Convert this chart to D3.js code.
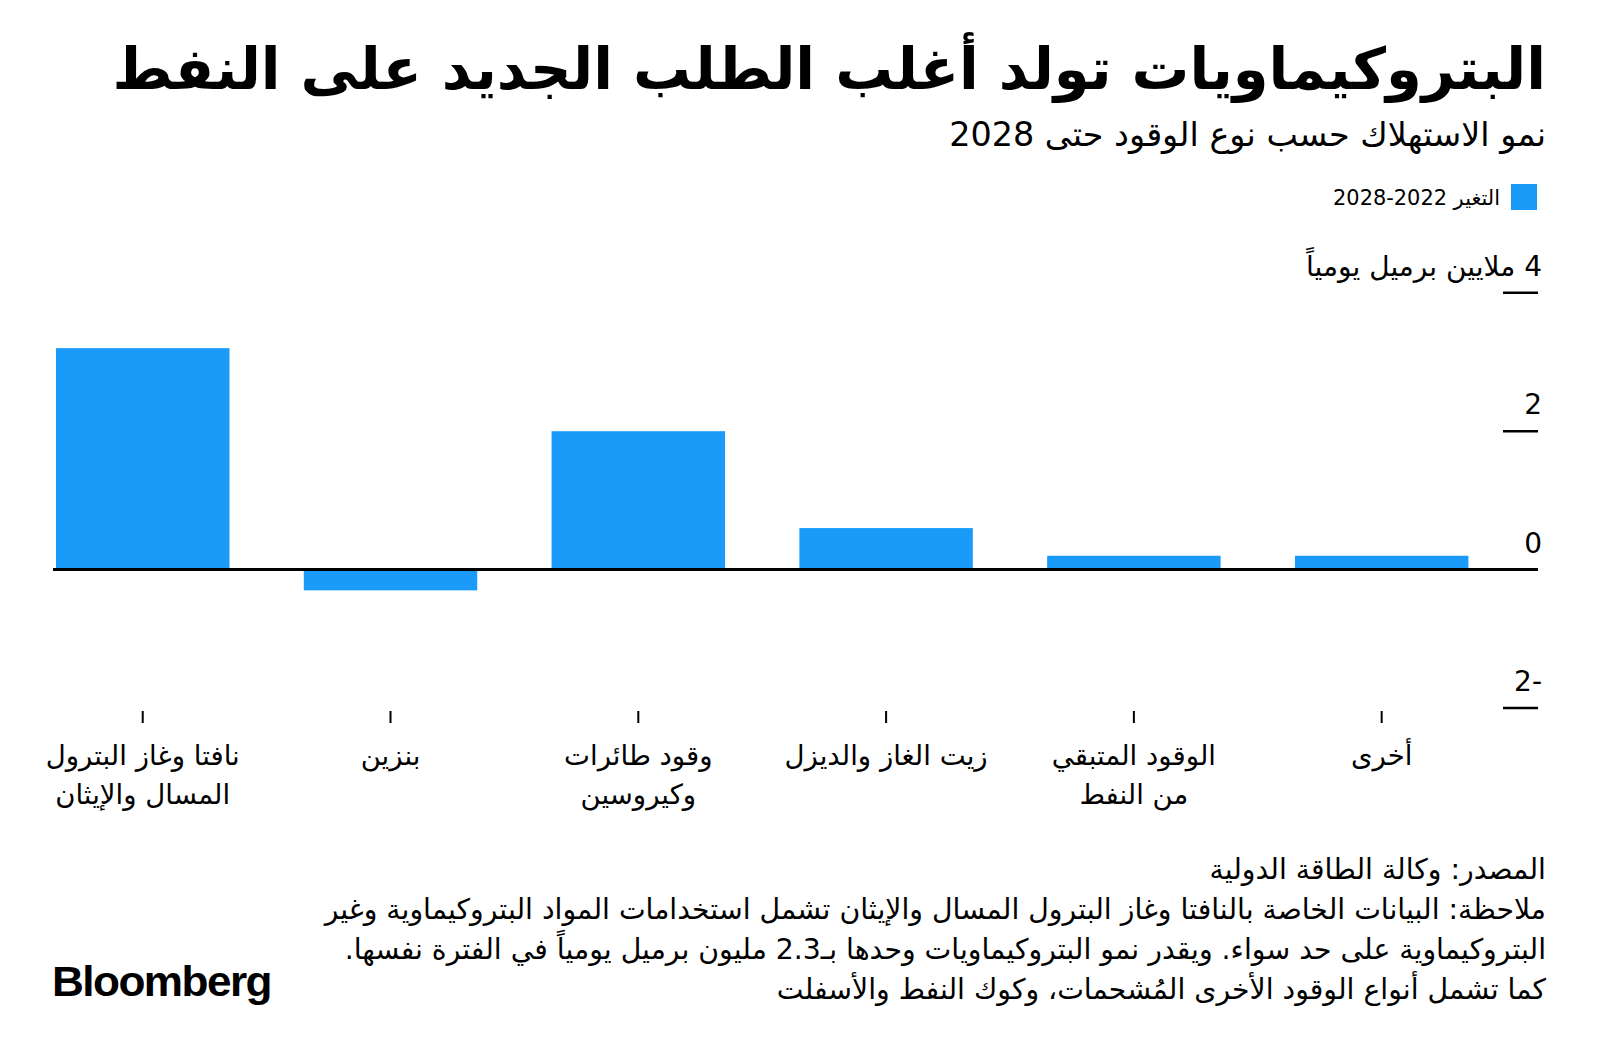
<!DOCTYPE html>
<html lang="ar">
<head>
<meta charset="utf-8">
<script src="https://cdn.jsdelivr.net/npm/d3@7"></script>
<style>
  html, body { margin: 0; padding: 0; background: #fff; }
  svg { display: block; }
  .ar { font-family: "DejaVu Sans", "Noto Sans Arabic", sans-serif; fill: #000; }
</style>
</head>
<body>
<svg id="chart" width="1600" height="1062"></svg>
<script>
// ---- data ----
const categories = [
  "نافتا وغاز البترول\nالمسال والإيثان",
  "بنزين",
  "وقود طائرات\nوكيروسين",
  "زيت الغاز والديزل",
  "الوقود المتبقي\nمن النفط",
  "أخرى"
];
const values = [3.2, -0.3, 2.0, 0.6, 0.2, 0.2];
const yTicks = [4, 2, 0, -2];
const yTickLabels = ["4 ملايين برميل يومياً", "2", "0", "-2"];
const seriesName = "التغير 2022\u20102028";
const titleText = "البتروكيماويات تولد أغلب الطلب الجديد على النفط";
const subtitleText = "نمو الاستهلاك حسب نوع الوقود حتى 2028";
const footerLines = [
  "المصدر: وكالة الطاقة الدولية",
  "ملاحظة: البيانات الخاصة بالنافتا وغاز البترول المسال والإيثان تشمل استخدامات المواد البتروكيماوية وغير",
  "البتروكيماوية على حد سواء. ويقدر نمو البتروكيماويات وحدها بـ2.3 مليون برميل يومياً في الفترة نفسها.",
  "كما تشمل أنواع الوقود الأخرى المُشحمات، وكوك النفط والأسفلت"
];

// ---- setup ----
const svg = d3.select("#chart");
const BLUE = "#1a9bfa";
const RIGHT = 1546;

function rtlText(g, txt, x, y, size, weight) {
  return g.append("text")
    .attr("class", "ar")
    .attr("direction", "rtl")
    .attr("text-anchor", "start")
    .attr("x", x).attr("y", y)
    .attr("font-size", size)
    .attr("font-weight", weight || "normal")
    .text(txt);
}
function fit(sel, w) {
  const cur = sel.node().getComputedTextLength();
  const fs = parseFloat(sel.attr("font-size"));
  const nfs = fs * w / cur;
  sel.attr("font-size", nfs);
  return nfs;
}

// title & subtitle
const title = rtlText(svg, titleText, RIGHT, 89, 60, "bold");
fit(title, 1434);
const sub = rtlText(svg, subtitleText, RIGHT, 146, 30);
fit(sub, 597);

// legend
svg.append("rect").attr("x", 1511).attr("y", 184).attr("width", 26).attr("height", 26).attr("fill", BLUE);
const leg = rtlText(svg, seriesName, 1500, 205, 20);
fit(leg, 167);

// scales
const x = d3.scaleBand().domain(d3.range(categories.length)).range([56, 1468.4]).paddingInner(0.3).paddingOuter(0);
const y = d3.scaleLinear().domain([-2, 4]).range([708, 292.8]);

// bars
svg.append("g").selectAll("rect").data(values).join("rect")
  .attr("x", (d, i) => x(i))
  .attr("width", x.bandwidth())
  .attr("y", d => y(Math.max(0, d)))
  .attr("height", d => Math.abs(y(d) - y(0)))
  .attr("fill", BLUE);

// zero line
svg.append("line").attr("x1", 53).attr("x2", 1538).attr("y1", y(0)).attr("y2", y(0))
  .attr("stroke", "#000").attr("stroke-width", 3);

// y ticks
const yg = svg.append("g");
yg.selectAll("line").data(yTicks).join("line")
  .attr("x1", 1503).attr("x2", 1538)
  .attr("y1", d => y(d)).attr("y2", d => y(d))
  .attr("stroke", "#000").attr("stroke-width", d => d === 0 ? 3 : 2.5);
yTicks.forEach((t, i) => {
  rtlText(yg, yTickLabels[i], 1542, y(t) - 17, 28);
});

// x ticks & labels
const xg = svg.append("g");
xg.selectAll("line").data(categories).join("line")
  .attr("x1", (d, i) => x(i) + x.bandwidth() / 2)
  .attr("x2", (d, i) => x(i) + x.bandwidth() / 2)
  .attr("y1", 711).attr("y2", 723)
  .attr("stroke", "#000").attr("stroke-width", 2);

// measure label size
const probe = xg.append("text").attr("class", "ar").attr("direction", "rtl")
  .attr("font-size", 28).text(categories[0].split("\n")[0]);
const catSize = fit(probe, 194);
probe.remove();

categories.forEach((c, i) => {
  const cx = x(i) + x.bandwidth() / 2;
  c.split("\n").forEach((line, j) => {
    xg.append("text").attr("class", "ar").attr("direction", "rtl")
      .attr("text-anchor", "middle")
      .attr("x", cx).attr("y", 765 + j * 39)
      .attr("font-size", catSize)
      .text(line);
  });
});

// footer
const fg = svg.append("g");
const probe2 = fg.append("text").attr("class", "ar").attr("direction", "rtl")
  .attr("font-size", 26).text(footerLines[1]);
const footSize = fit(probe2, 1222);
probe2.remove();
footerLines.forEach((l, i) => {
  rtlText(fg, l, RIGHT, 879 + i * 40, footSize);
});

// logo
svg.append("text")
  .attr("x", 52).attr("y", 996)
  .attr("font-family", "'Liberation Sans', Arial, sans-serif")
  .attr("font-weight", "bold")
  .attr("font-size", 43)
  .attr("letter-spacing", -1.5)
  .attr("textLength", 219)
  .attr("lengthAdjust", "spacingAndGlyphs")
  .attr("fill", "#000")
  .text("Bloomberg");
</script>
</body>
</html>
